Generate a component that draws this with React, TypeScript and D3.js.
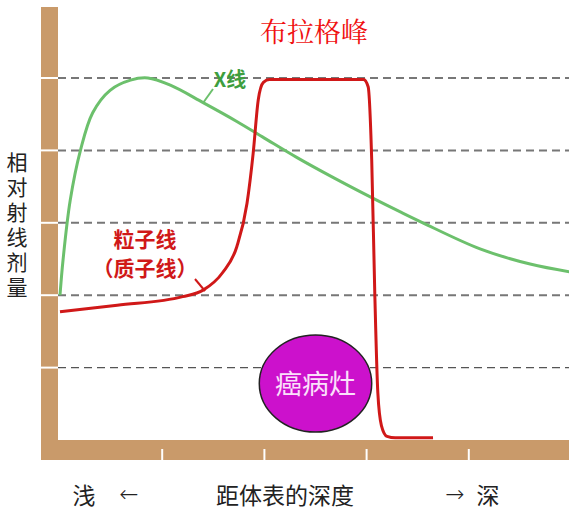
import React from "react";
import * as d3 from "d3";

// ---- data ----
const title = "布拉格峰";
const yAxisLabel = "相对射线剂量";
const xAxisLabel = "距体表的深度";
const shallowLabel = "浅";
const leftArrow = "←";
const rightArrow = "→";
const deepLabel = "深";
const xRayLabel = "X线";
const particleLabel1 = "粒子线";
const particleLabel2 = "（质子线）";
const tumorLabel = "癌病灶";

const depthTicks = [10, 20, 30, 40];
const doseTicks = [1, 2, 3, 4, 5];

const xRayDepth = [0, 0.3, 1.0, 2.0, 3.2, 4.9, 6.9, 8.6, 10.8, 14.0, 17.3, 20.0, 23.2, 26.8, 30.6, 33.3, 35.5, 41.1, 46.0, 50];
const xRayDose = [2.0, 2.49, 3.31, 4.0, 4.52, 4.83, 4.97, 5.0, 4.9, 4.66, 4.4, 4.17, 3.9, 3.62, 3.34, 3.15, 3.0, 2.64, 2.43, 2.32];

const protonDepth = [0, 5.6, 12.0, 14.0, 15.9, 17.3, 18.3, 18.9, 19.4, 19.9, 20.5, 29.7, 30.15, 30.5, 30.8, 31.1, 31.45, 32.0, 32.8, 36.5];
const protonDose = [1.77, 1.86, 1.98, 2.07, 2.31, 2.67, 3.27, 3.96, 4.7, 4.94, 4.98, 4.98, 4.88, 3.87, 2.03, 0.65, 0.2, 0.05, 0.03, 0.03];

// tumor position (depth / dose units)
const tumorCenter = [25, 0.78];
const tumorRadius = [5.5, 0.67];

// ---- layout ----
const W = 569;
const H = 510;
const barColor = "#c99a6a";
const red = "#d01818";
const green = "#6cc06c";

export default function App() {
  const x = d3.scaleLinear().domain([0, 50]).range([60, 571]);
  const y = d3.scaleLinear().domain([0, 5]).range([440, 78]);

  const greenLine = d3
    .line<[number, number]>()
    .x((d) => x(d[0]))
    .y((d) => y(d[1]))
    .curve(d3.curveCatmullRom.alpha(0.5));
  const redLine = d3
    .line<[number, number]>()
    .x((d) => x(d[0]))
    .y((d) => y(d[1]))
    .curve(d3.curveMonotoneX);

  const xRay = xRayDepth.map((d, i) => [d, xRayDose[i]] as [number, number]);
  const proton = protonDepth.map((d, i) => [d, protonDose[i]] as [number, number]);

  const cjk = "'Noto Sans CJK SC', 'Noto Sans', sans-serif";

  return (
    <svg
      width={W}
      height={H}
      style={{ position: "absolute", left: 0, top: 0, background: "#fff" }}
      fontFamily={cjk}
    >
      {/* axes bars */}
      <rect x={41} y={7} width={17} height={453} fill={barColor} />
      <rect x={41} y={440} width={W - 41} height={20} fill={barColor} />
      {doseTicks.map((t) => (
        <line key={"yb" + t} x1={41} x2={58} y1={y(t)} y2={y(t)} stroke="#fff" strokeWidth={2} />
      ))}
      {depthTicks.map((t) => (
        <line key={"xb" + t} x1={x(t)} x2={x(t)} y1={449} y2={460} stroke="#fff" strokeWidth={2} />
      ))}

      {/* grid lines */}
      {doseTicks.map((t) => (
        <line
          key={"g" + t}
          x1={58}
          x2={W}
          y1={y(t)}
          y2={y(t)}
          stroke={t === 1 ? "#555" : "#777"}
          strokeWidth={t === 1 ? 1.2 : 2}
          strokeDasharray="8 5"
        />
      ))}

      {/* tumor */}
      <ellipse
        cx={x(tumorCenter[0])}
        cy={y(tumorCenter[1])}
        rx={x(tumorRadius[0]) - x(0)}
        ry={y(0) - y(tumorRadius[1])}
        fill="#cc11cc"
        stroke="#222"
        strokeWidth={1.5}
      />
      <text
        x={x(tumorCenter[0])}
        y={y(tumorCenter[1]) + 10}
        textAnchor="middle"
        fontSize={27}
        fill="#fbe0fb"
      >
        {tumorLabel}
      </text>

      {/* curves */}
      <path d={greenLine(xRay) || ""} fill="none" stroke={green} strokeWidth={3} />
      <path d={redLine(proton) || ""} fill="none" stroke={red} strokeWidth={3} strokeLinejoin="round" />

      {/* curve labels */}
      <line x1={213} y1={89} x2={203} y2={103} stroke={green} strokeWidth={2} />
      <text x={230} y={87} textAnchor="middle" fontSize={20} fontWeight="bold" fill="#3e9e3e">
        {xRayLabel}
      </text>
      <line x1={195} y1={279} x2={205} y2={291} stroke={red} strokeWidth={2} />
      <text x={145} y={247} textAnchor="middle" fontSize={21} fontWeight="bold" fill={red}>
        {particleLabel1}
      </text>
      <text x={145} y={276} textAnchor="middle" fontSize={21} fontWeight="bold" fill={red}>
        {particleLabel2}
      </text>

      {/* title */}
      <text x={314} y={42} textAnchor="middle" fontSize={27} fill="#f01010" fontFamily="'Noto Serif CJK SC', 'Noto Sans CJK SC', serif">
        {title}
      </text>

      {/* y axis label (vertical) */}
      <text
        x={17}
        y={152}
        fontSize={21}
        fill="#222"
        letterSpacing={4}
        style={{ writingMode: "vertical-rl" }}
      >
        {yAxisLabel}
      </text>

      {/* x axis labels */}
      <text x={84} y={504} textAnchor="middle" fontSize={23} fill="#222">
        {shallowLabel}
      </text>
      <text x={129} y={502} textAnchor="middle" fontSize={23} fill="#222" fontFamily="'DejaVu Sans', sans-serif" fontWeight="200">
        {leftArrow}
      </text>
      <text x={285} y={504} textAnchor="middle" fontSize={23} fill="#222">
        {xAxisLabel}
      </text>
      <text x={455} y={502} textAnchor="middle" fontSize={23} fill="#222" fontFamily="'DejaVu Sans', sans-serif" fontWeight="200">
        {rightArrow}
      </text>
      <text x={488} y={504} textAnchor="middle" fontSize={23} fill="#222">
        {deepLabel}
      </text>
    </svg>
  );
}
